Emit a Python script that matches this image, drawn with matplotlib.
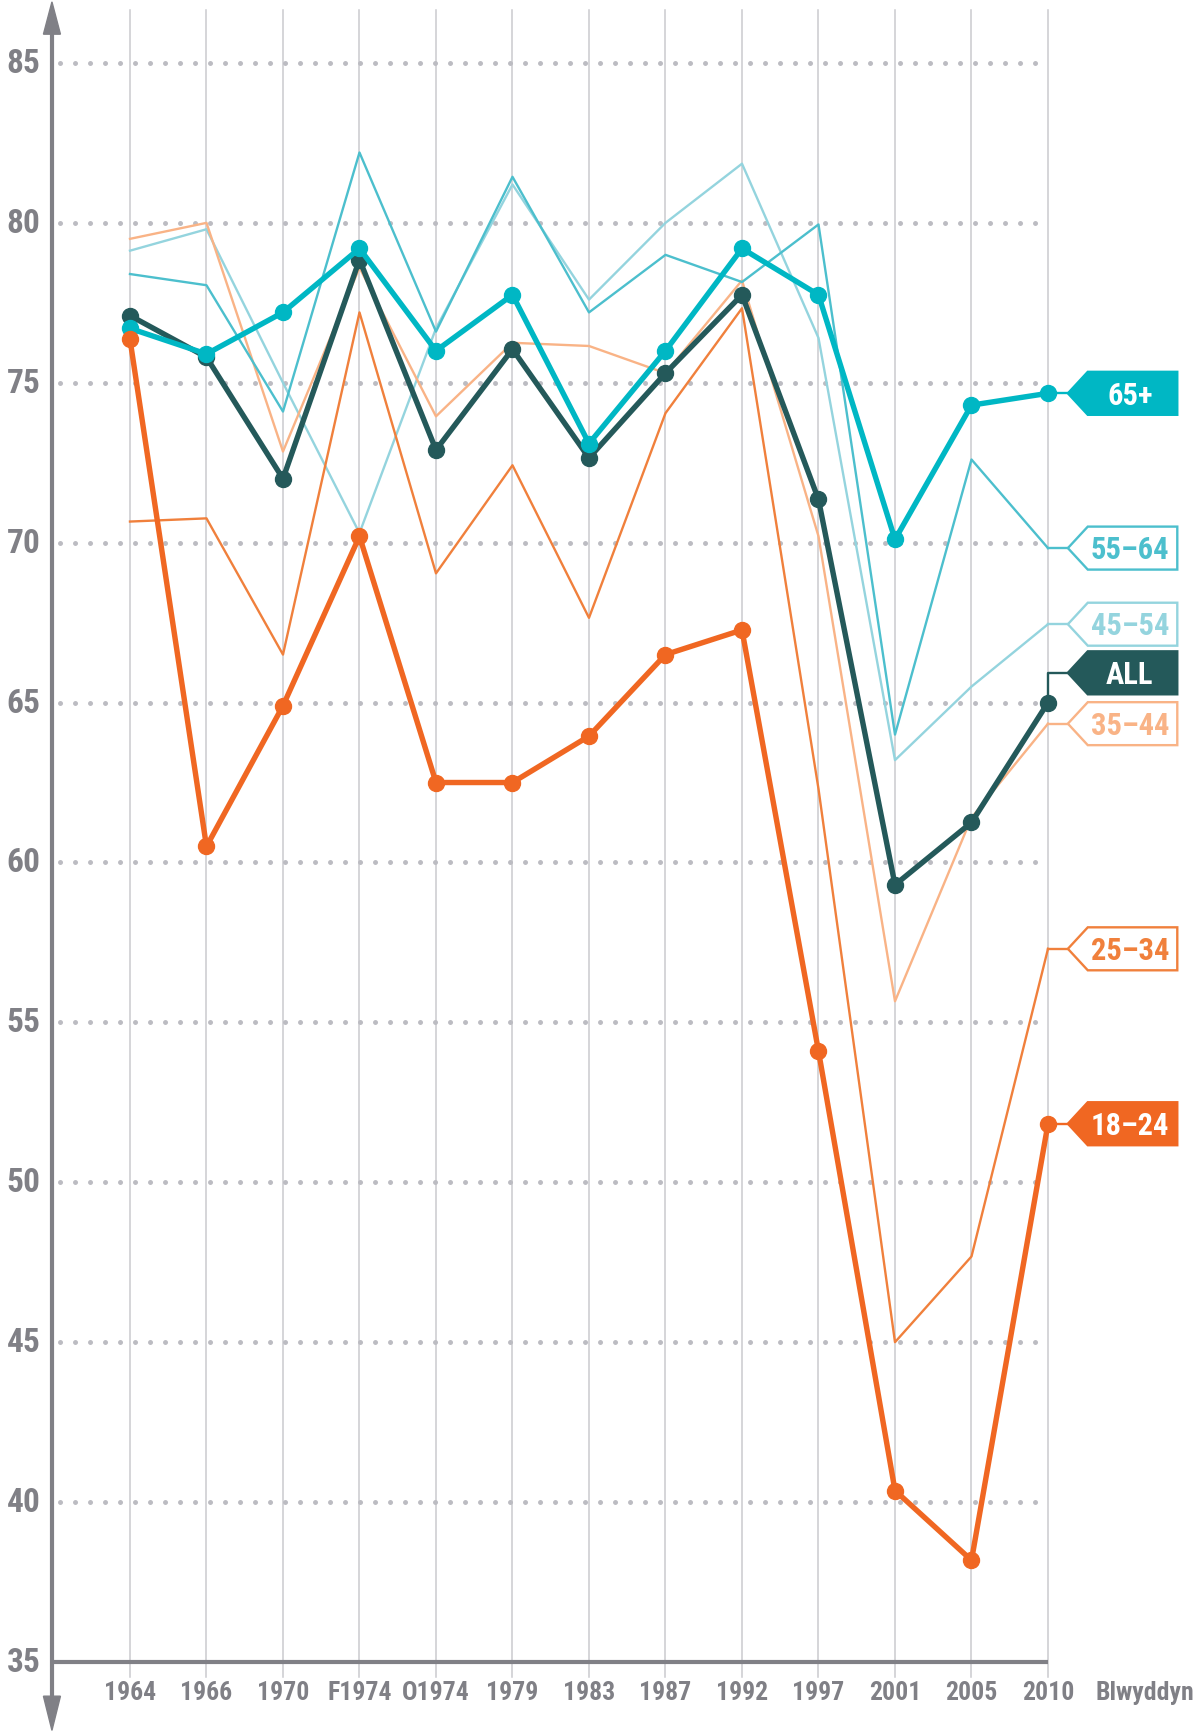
import numpy as np
import matplotlib
matplotlib.use('Agg')
import matplotlib.pyplot as plt
from matplotlib.patches import Polygon

years = ['1964','1966','1970','F1974','O1974','1979','1983','1987','1992','1997','2001','2005','2010']
yticks = [35,40,45,50,55,60,65,70,75,80,85]

v_all   = [77.1, 75.8, 72.0, 78.85, 72.9, 76.05, 72.65, 75.3, 77.75, 71.35, 59.3, 61.25, 65.0]
v_65    = [76.7, 75.9, 77.2, 79.2, 76.0, 77.75, 73.1, 76.0, 79.2, 77.75, 70.1, 74.3, 74.67]
v_1824  = [76.36, 60.5, 64.9, 70.2, 62.5, 62.5, 63.95, 66.5, 67.27, 54.1, 40.36, 38.18, 51.83]
v_5564  = [78.4, 78.05, 74.1, 82.2, 76.6, 81.44, 77.2, 79.0, 78.15, 79.95, 64.0, 72.6, 69.83]
v_4554  = [79.13, 79.8, 75.0, 70.3, 76.7, 81.2, 77.6, 80.0, 81.85, 76.4, 63.2, 65.5, 67.45]
v_3544  = [79.5, 80.0, 72.85, 78.6, 73.95, 76.25, 76.15, 75.3, 78.2, 70.2, 55.66, 61.4, 64.34]
v_2534  = [70.66, 70.76, 66.5, 77.2, 69.04, 72.42, 67.65, 74.05, 77.33, 62.3, 45.0, 47.68, 57.3]

C_GRAY='#808086'; C_VGRID='#cacace'; C_DOT='#bcbcc2'
C_ALL='#24595a'; C_65='#00b7c4'; C_5564='#4cbfcd'; C_4554='#94d4de'
C_3544='#f9b386'; C_2534='#f0803c'; C_1824='#f06722'
FONT=['Roboto Condensed','DejaVu Sans']
TK=dict(fontweight='bold',fontstretch='condensed',family=FONT)

fig=plt.figure(figsize=(12.02,17.33),dpi=100)
ax=fig.add_axes([0,0,1,1])
ax.set_xlim(-1.699,14.013); ax.set_ylim(32.81,87.0)
ax.axis('off')
x=np.arange(len(years))

# grid
for i in x: ax.plot([i,i],[34.53,86.66],color=C_VGRID,lw=1.1,zorder=1)
for y in yticks[1:]:
    ax.plot([-0.915,11.87],[y,y],color=C_DOT,lw=3.6,dashes=(0.01,2.99),dash_capstyle='round',zorder=1)

# axes + arrows
ax.plot([-1.02,-1.02],[33.9,85.95],color=C_GRAY,lw=3,zorder=2,solid_capstyle='butt')
ax.plot([-1.02,12],[35,35],color=C_GRAY,lw=3,zorder=2,solid_capstyle='butt')
ax.add_patch(Polygon([[-1.131,85.9],[-0.909,85.9],[-1.02,86.91]],closed=True,color=C_GRAY,zorder=2))
ax.add_patch(Polygon([[-1.131,33.93],[-0.909,33.93],[-1.02,32.86]],closed=True,color=C_GRAY,zorder=2))
for y in yticks:
    ax.text(-1.39,y,str(y),ha='center',va='center',fontsize=24,color=C_GRAY,**TK)
for i,l in enumerate(years):
    ax.text(i,34.07,l,ha='center',va='center',fontsize=18.5,color=C_GRAY,**TK)
ax.text(13.26,34.07,'Blwyddyn',ha='center',va='center',fontsize=18.5,color=C_GRAY,**TK)

# thin series
for v,c in [(v_4554,C_4554),(v_3544,C_3544),(v_5564,C_5564),(v_2534,C_2534)]:
    ax.plot(x,v,color=c,lw=1.7,zorder=3)
# bold series
for v,c,z in [(v_all,C_ALL,4),(v_65,C_65,5),(v_1824,C_1824,6)]:
    ax.plot(x,v,color=c,lw=3.9,marker='o',ms=11.5,zorder=z)

# end tags
def tag(yv,ylab,text,c,filled):
    h=0.672
    ax.plot([12,12,12.26],[yv,ylab,ylab],color=c,lw=1.7,zorder=3)
    pts=[[12.26,ylab],[12.52,ylab+h],[13.69,ylab+h],[13.69,ylab-h],[12.52,ylab-h]]
    ax.add_patch(Polygon(pts,closed=True,facecolor=c if filled else 'white',edgecolor=c,lw=1.7,zorder=7))
    ax.text(13.07,ylab-0.04,text,ha='center',va='center',fontsize=22,
            color='white' if filled else c,zorder=8,**TK)

tag(v_65[-1],v_65[-1],'65+',C_65,True)
tag(v_5564[-1],v_5564[-1],'55–64',C_5564,False)
tag(v_4554[-1],v_4554[-1],'45–54',C_4554,False)
tag(v_all[-1],65.93,'ALL',C_ALL,True)
tag(v_3544[-1],v_3544[-1],'35–44',C_3544,False)
tag(v_2534[-1],v_2534[-1],'25–34',C_2534,False)
tag(v_1824[-1],v_1824[-1],'18–24',C_1824,True)

fig.savefig('out.png',dpi=100,facecolor='white')
